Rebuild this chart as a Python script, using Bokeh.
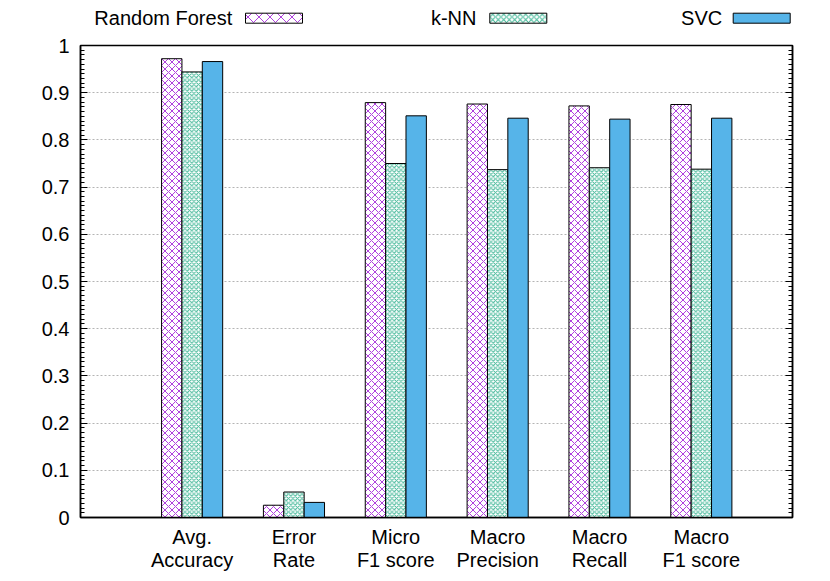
from bokeh.plotting import figure
from bokeh.models import Range1d, LinearAxis, FixedTicker, ColumnDataSource, Grid
from bokeh.layouts import column
from bokeh.core.properties import value
from bokeh.embed import file_html
from bokeh.resources import INLINE

# ---- data ----
categories = ["Avg.\nAccuracy", "Error\nRate", "Micro\nF1 score",
              "Macro\nPrecision", "Macro\nRecall", "Macro\nF1 score"]
series_names = ["Random Forest", "k-NN", "SVC"]
rf = [0.972, 0.026, 0.879, 0.876, 0.872, 0.875]
knn = [0.944, 0.054, 0.750, 0.737, 0.741, 0.738]
svc = [0.966, 0.032, 0.851, 0.846, 0.844, 0.846]
y_ticks = [0.0, 0.1, 0.2, 0.3, 0.4, 0.5, 0.6, 0.7, 0.8, 0.9, 1.0]
y_tick_labels = ["0", "0.1", "0.2", "0.3", "0.4", "0.5", "0.6", "0.7", "0.8", "0.9", "1"]

FONT = "Liberation Sans"
FS = "20px"

series_values = [rf, knn, svc]
offsets = [-0.2, 0.0, 0.2]
styles = [
    dict(fill_color="white", hatch_pattern="x", hatch_color="#9400d3", hatch_alpha=0.75,
         hatch_scale=7, hatch_weight=1),
    dict(fill_color="white", hatch_pattern="x", hatch_color="#009e73", hatch_alpha=0.75,
         hatch_scale=4.5, hatch_weight=1),
    dict(fill_color="#56b4e9"),
]
legend_styles = [
    dict(fill_color="white", hatch_pattern="x", hatch_color="#9400d3", hatch_alpha=0.75,
         hatch_scale=11, hatch_weight=1),
    dict(fill_color="white", hatch_pattern="x", hatch_color="#009e73", hatch_alpha=0.75,
         hatch_scale=5.5, hatch_weight=1),
    dict(fill_color="#56b4e9"),
]

W = 824
BL, BR = 80, 32          # left/right borders -> frame x 80..792
LEG_H = 30

# ---- main plot ----
p = figure(width=W, height=15 + 473 + 55, x_range=Range1d(-1.096, 5.895), y_range=Range1d(0, 1),
           toolbar_location=None, output_backend="svg",
           min_border_left=BL, min_border_right=BR, min_border_top=15, min_border_bottom=55,
           x_axis_type=None, y_axis_type=None)
p.outline_line_color = "black"
p.outline_line_width = 1.5

idx = list(range(len(categories)))
for vals, off, st in zip(series_values, offsets, styles):
    src = ColumnDataSource(dict(x=[i + off for i in idx], top=vals))
    p.vbar(x="x", top="top", width=0.2, source=src, line_color="black", line_width=1, **st)

yticker = FixedTicker(ticks=y_ticks, minor_ticks=[i / 100 for i in range(101)])
yaxis = LinearAxis(ticker=yticker)
yaxis.major_label_overrides = {t: l for t, l in zip(y_ticks, y_tick_labels)}
yaxis.major_label_text_font = FONT
yaxis.major_label_text_font_size = FS
yaxis.major_label_text_color = "black"
yaxis.major_label_standoff = 11
p.add_layout(yaxis, "left")

raxis = LinearAxis(ticker=yticker)
raxis.major_label_overrides = {t: "" for t in y_ticks}
raxis.major_label_standoff = 0
p.add_layout(raxis, "right")

for ax in [yaxis, raxis]:
    ax.axis_line_color = "black"
    ax.axis_line_width = 1.5
    ax.major_tick_in = 7
    ax.major_tick_out = 0
    ax.minor_tick_in = 4
    ax.minor_tick_out = 0
    ax.major_tick_line_color = "black"
    ax.minor_tick_line_color = "black"

xaxis = LinearAxis(ticker=FixedTicker(ticks=[float(i) for i in idx], minor_ticks=[]))
xaxis.major_label_overrides = {float(i): c for i, c in zip(idx, categories)}
xaxis.major_label_text_font = FONT
xaxis.major_label_text_font_size = FS
xaxis.major_label_text_color = "black"
xaxis.major_label_text_line_height = 1.05
xaxis.major_label_standoff = 8
xaxis.major_tick_in = 0
xaxis.major_tick_out = 0
xaxis.axis_line_color = "black"
xaxis.axis_line_width = 1.5
p.add_layout(xaxis, "below")

grid = Grid(dimension=1, ticker=FixedTicker(ticks=y_ticks[1:-1]))
grid.grid_line_color = "#b4b4b4"
grid.grid_line_dash = "2 2"
grid.grid_line_width = 1
p.add_layout(grid)

# ---- legend strip (x and y in page pixels) ----
lg = figure(width=W, height=LEG_H, x_range=Range1d(BL, W - BR), y_range=Range1d(LEG_H, 0),
            toolbar_location=None, output_backend="svg",
            min_border_left=BL, min_border_right=BR, min_border_top=0, min_border_bottom=0,
            x_axis_type=None, y_axis_type=None)
lg.outline_line_color = None
lg.grid.visible = False

text_right = [231.7, 476.0, 721.7]
sw_left = [245.0, 489.3, 732.7]
sw_w = 57
for name, tx, sx, st in zip(series_names, text_right, sw_left, legend_styles):
    lg.text(x=[tx], y=[17.5], text=[name], text_align="right", text_baseline="middle",
            text_font=value(FONT), text_font_size=FS, text_color="black")
    lg.rect(x=[sx + sw_w / 2], y=[17.7], width=sw_w, height=10,
            line_color="black", line_width=1, **st)

layout = column(lg, p, spacing=0)
open("out.html", "w").write(file_html(layout, INLINE))
